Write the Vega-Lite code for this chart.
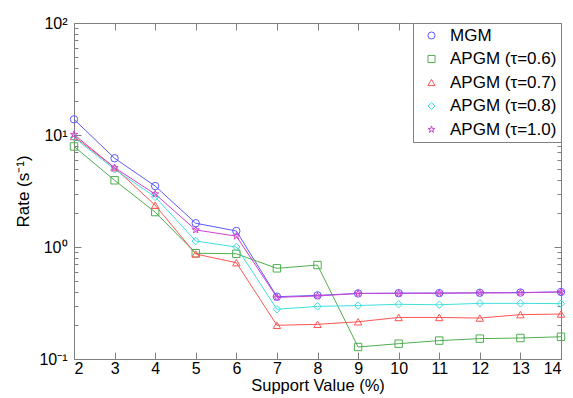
{
  "$schema": "https://vega.github.io/schema/vega-lite/v6.json",
  "autosize": "none",
  "width": 487,
  "height": 336,
  "padding": {"left": 74, "top": 23, "right": 12, "bottom": 39},
  "background": "white",
  "config": {
    "font": "Liberation Sans",
    "view": {"stroke": "#7f7f7f", "strokeWidth": 1},
    "axis": {"grid": false, "domain": false, "tickColor": "#7f7f7f", "labelColor": "black", "titleColor": "black", "labelFontSize": 16, "titleFontWeight": "normal"},
    "legend": {"labelFontSize": 17, "labelColor": "black"}
  },
  "data": {
    "values": [
      {"s": 2, "series": "MGM", "rate": 13.8},
      {"s": 3, "series": "MGM", "rate": 6.2},
      {"s": 4, "series": "MGM", "rate": 3.5},
      {"s": 5, "series": "MGM", "rate": 1.63},
      {"s": 6, "series": "MGM", "rate": 1.39},
      {"s": 7, "series": "MGM", "rate": 0.36},
      {"s": 8, "series": "MGM", "rate": 0.37},
      {"s": 9, "series": "MGM", "rate": 0.385},
      {"s": 10, "series": "MGM", "rate": 0.387},
      {"s": 11, "series": "MGM", "rate": 0.388},
      {"s": 12, "series": "MGM", "rate": 0.39},
      {"s": 13, "series": "MGM", "rate": 0.392},
      {"s": 14, "series": "MGM", "rate": 0.397},
      {"s": 2, "series": "APGM (τ=0.6)", "rate": 7.9},
      {"s": 3, "series": "APGM (τ=0.6)", "rate": 3.94},
      {"s": 4, "series": "APGM (τ=0.6)", "rate": 2.05},
      {"s": 5, "series": "APGM (τ=0.6)", "rate": 0.88},
      {"s": 6, "series": "APGM (τ=0.6)", "rate": 0.87},
      {"s": 7, "series": "APGM (τ=0.6)", "rate": 0.645},
      {"s": 8, "series": "APGM (τ=0.6)", "rate": 0.69},
      {"s": 9, "series": "APGM (τ=0.6)", "rate": 0.128},
      {"s": 10, "series": "APGM (τ=0.6)", "rate": 0.137},
      {"s": 11, "series": "APGM (τ=0.6)", "rate": 0.146},
      {"s": 12, "series": "APGM (τ=0.6)", "rate": 0.152},
      {"s": 13, "series": "APGM (τ=0.6)", "rate": 0.154},
      {"s": 14, "series": "APGM (τ=0.6)", "rate": 0.158},
      {"s": 2, "series": "APGM (τ=0.7)", "rate": 9.7},
      {"s": 3, "series": "APGM (τ=0.7)", "rate": 5.1},
      {"s": 4, "series": "APGM (τ=0.7)", "rate": 2.36},
      {"s": 5, "series": "APGM (τ=0.7)", "rate": 0.866},
      {"s": 6, "series": "APGM (τ=0.7)", "rate": 0.724},
      {"s": 7, "series": "APGM (τ=0.7)", "rate": 0.2},
      {"s": 8, "series": "APGM (τ=0.7)", "rate": 0.204},
      {"s": 9, "series": "APGM (τ=0.7)", "rate": 0.215},
      {"s": 10, "series": "APGM (τ=0.7)", "rate": 0.235},
      {"s": 11, "series": "APGM (τ=0.7)", "rate": 0.235},
      {"s": 12, "series": "APGM (τ=0.7)", "rate": 0.232},
      {"s": 13, "series": "APGM (τ=0.7)", "rate": 0.249},
      {"s": 14, "series": "APGM (τ=0.7)", "rate": 0.252},
      {"s": 2, "series": "APGM (τ=0.8)", "rate": 9.5},
      {"s": 3, "series": "APGM (τ=0.8)", "rate": 4.94},
      {"s": 4, "series": "APGM (τ=0.8)", "rate": 2.8},
      {"s": 5, "series": "APGM (τ=0.8)", "rate": 1.13},
      {"s": 6, "series": "APGM (τ=0.8)", "rate": 1.0},
      {"s": 7, "series": "APGM (τ=0.8)", "rate": 0.278},
      {"s": 8, "series": "APGM (τ=0.8)", "rate": 0.295},
      {"s": 9, "series": "APGM (τ=0.8)", "rate": 0.3},
      {"s": 10, "series": "APGM (τ=0.8)", "rate": 0.308},
      {"s": 11, "series": "APGM (τ=0.8)", "rate": 0.305},
      {"s": 12, "series": "APGM (τ=0.8)", "rate": 0.314},
      {"s": 13, "series": "APGM (τ=0.8)", "rate": 0.314},
      {"s": 14, "series": "APGM (τ=0.8)", "rate": 0.312},
      {"s": 2, "series": "APGM (τ=1.0)", "rate": 10.1},
      {"s": 3, "series": "APGM (τ=1.0)", "rate": 5.1},
      {"s": 4, "series": "APGM (τ=1.0)", "rate": 2.97},
      {"s": 5, "series": "APGM (τ=1.0)", "rate": 1.42},
      {"s": 6, "series": "APGM (τ=1.0)", "rate": 1.25},
      {"s": 7, "series": "APGM (τ=1.0)", "rate": 0.355},
      {"s": 8, "series": "APGM (τ=1.0)", "rate": 0.365},
      {"s": 9, "series": "APGM (τ=1.0)", "rate": 0.385},
      {"s": 10, "series": "APGM (τ=1.0)", "rate": 0.386},
      {"s": 11, "series": "APGM (τ=1.0)", "rate": 0.387},
      {"s": 12, "series": "APGM (τ=1.0)", "rate": 0.389},
      {"s": 13, "series": "APGM (τ=1.0)", "rate": 0.39},
      {"s": 14, "series": "APGM (τ=1.0)", "rate": 0.397}
    ]
  },
  "resolve": {"axis": {"x": "independent", "y": "independent"}},
  "layer": [
    {
      "mark": {"type": "line", "strokeWidth": 1},
      "encoding": {
        "x": {"field": "s", "type": "quantitative", "scale": {"domain": [2, 14], "nice": false, "zero": false},
              "axis": {"orient": "bottom", "values": [2,3,4,5,6,7,8,9,10,11,12,13,14], "tickSize": -7, "labelPadding": 8, "labelFontSize": 16, "title": "Support Value (%)", "titleFontSize": 16.5, "titlePadding": 1}},
        "y": {"field": "rate", "type": "quantitative", "scale": {"type": "log", "domain": [0.1, 100], "nice": false},
              "axis": {"orient": "left", "values": [0.1, 1, 10, 100], "tickSize": -7, "labelPadding": 14,
                       "labelExpr": "datum.value == 0.1 ? '10⁻¹' : datum.value == 1 ? '10⁰' : datum.value == 10 ? '10¹' : '10²'",
                       "title": "Rate (s⁻¹)", "titleFontSize": 17, "titlePadding": 6}},
        "color": {"field": "series", "type": "nominal",
                  "scale": {"domain": ["MGM", "APGM (τ=0.6)", "APGM (τ=0.7)", "APGM (τ=0.8)", "APGM (τ=1.0)"],
                            "range": ["#5a5aff", "#4fae4f", "#ff5555", "#40dede", "#d040d0"]},
                  "legend": {"orient": "top-right", "offset": 0, "title": null, "strokeColor": "#7f7f7f", "fillColor": "white", "padding": 4, "rowPadding": 5.5, "symbolSize": 50, "symbolStrokeWidth": 1, "symbolOffset": 6, "labelOffset": 10, "labelFontSize": 17}},
        "detail": {"field": "series"}
      }
    },
    {
      "mark": {"type": "point", "filled": false, "size": 55, "strokeWidth": 1, "opacity": 1},
      "encoding": {
        "x": {"field": "s", "type": "quantitative", "axis": {"orient": "top", "values": [2,3,4,5,6,7,8,9,10,11,12,13,14], "tickSize": -7, "labels": false, "title": null}},
        "y": {"field": "rate", "type": "quantitative", "axis": {"orient": "right", "values": [0.1, 1, 10, 100], "tickSize": -7, "labels": false, "title": null}},
        "color": {"field": "series", "type": "nominal"},
        "shape": {"field": "series", "type": "nominal",
                  "scale": {"domain": ["MGM", "APGM (τ=0.6)", "APGM (τ=0.7)", "APGM (τ=0.8)", "APGM (τ=1.0)"],
                            "range": ["circle", "square", "triangle-up", "diamond", "M0,-1L0.225,-0.309L0.951,-0.309L0.363,0.118L0.588,0.809L0,0.382L-0.588,0.809L-0.363,0.118L-0.951,-0.309L-0.225,-0.309Z"]}}
      }
    },
    {
      "mark": {"type": "point", "opacity": 0},
      "encoding": {
        "x": {"field": "s", "type": "quantitative", "axis": null},
        "y": {"field": "rate", "type": "quantitative", "axis": {"orient": "left", "values": [0.2,0.3,0.4,0.5,0.6,0.7,0.8,0.9,2,3,4,5,6,7,8,9,20,30,40,50,60,70,80,90], "tickSize": -4, "labels": false, "title": null}}
      }
    },
    {
      "mark": {"type": "point", "opacity": 0},
      "encoding": {
        "x": {"field": "s", "type": "quantitative", "axis": null},
        "y": {"field": "rate", "type": "quantitative", "axis": {"orient": "right", "values": [0.2,0.3,0.4,0.5,0.6,0.7,0.8,0.9,2,3,4,5,6,7,8,9,20,30,40,50,60,70,80,90], "tickSize": -4, "labels": false, "title": null}}
      }
    }
  ]
}
